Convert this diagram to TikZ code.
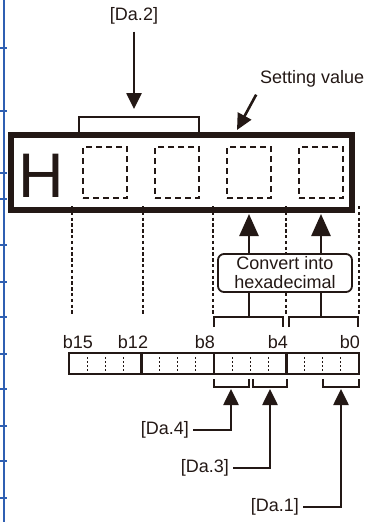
\documentclass[tikz,border=0pt]{standalone}
\usepackage{fontspec}
\setmainfont{Liberation Sans}
\usetikzlibrary{arrows.meta}
\definecolor{ink}{RGB}{35,24,21}
\definecolor{rule}{RGB}{47,95,178}

\begin{document}
\begin{tikzpicture}[x=1pt, y=-1pt,
  every node/.style={font=\fontsize{18}{19}\selectfont, text=ink, inner sep=0pt},
  frame/.style={ink, line width=5.5pt},
  digitbox/.style={draw=ink, line width=2.5pt, dash pattern=on 6pt off 4pt, minimum width=44pt, minimum height=51pt},
  bitline/.style={ink, line width=2.7pt, dash pattern=on 3.4pt off 2.4pt},
  bracket/.style={ink, line width=1.4pt},
  pointer/.style={ink, line width=2.6pt, -{Triangle[length=16pt,width=15pt]}},
  bigpointer/.style={ink, line width=2.6pt, -{Triangle[length=22pt,width=19pt]}}]
  \useasboundingbox (0,0) rectangle (366,523);
  %% table rule on the left
  \draw[rule, line width=2pt] (4,0) -- (4,522);
  \foreach \y in {48,111,173,199,245,282,317,354,389,426,461,498}
    \draw[rule, line width=1.5pt] (0,\y) -- (7,\y);
  %% display frame
  \draw[frame] (11,135) rectangle (352,210);
  \node (hchar) at (41.5,175.5) {\fontsize{63}{63}\selectfont H};
  \foreach \x [count=\i] in {105,177,249,321}
    \node[digitbox] (dig\i) at (\x,172.5) {};
  \coordinate (fbot) at (0,214);
  \coordinate (nibtop) at (0,317);
  %% [Da.2]
  \draw[bracket] (79,135) -- (79,117) -- (199,117) -- (199,135);
  \node (da2) at (134,16) {[Da.2]};
  \coordinate (da2tip) at (134,109);
  \draw[pointer, shorten <=7pt] (da2) -- (da2tip);
  %% setting value
  \node[anchor=west] (setval) at (260,79) {Setting value};
  \coordinate (svtip) at (237,130);
  \draw[pointer, shorten <=8pt] (setval.south west) -- (svtip);
  %% bit boundaries
  \foreach \x in {72,143,213,286,359}
    \draw[bitline] (\x,206) -- (\x,315);
  %% hex conversion
  \node[draw=ink, fill=white, line width=1.8pt, rounded corners=6pt, minimum width=134pt, minimum height=38pt, align=center] (conv) at (285,273) {Convert into\\hexadecimal};
  \draw[bigpointer] (conv.north -| dig3) -- (dig3 |- fbot);
  \draw[bigpointer] (conv.north -| dig4) -- (dig4 |- fbot);
  \draw[ink, line width=2.6pt] (conv.south -| dig3) -- (dig3 |- nibtop);
  \draw[ink, line width=2.6pt] (conv.south -| dig4) -- (dig4 |- nibtop);
  \draw[bracket] (214,327) -- (214,317) -- (283,317) -- (283,327);
  \draw[bracket] (289,327) -- (289,317) -- (358,317) -- (358,327);
  %% bit labels
  \foreach \b/\x in {15/78,12/133,8/205,4/278,0/350}
    \node (b\b) at (\x,342) {b\b};
  %% register
  \draw[ink, line width=2.6pt] (69,353) rectangle (359,374);
  \foreach \x in {141.5,214,286.5}
    \draw[ink, line width=2.6pt] (\x,353) -- (\x,374);
  \foreach \k in {1,2,3,5,6,7,9,10,11,13,14,15}
    \draw[ink, line width=0.9pt, dash pattern=on 2pt off 2pt] ({69+18.125*\k},357) -- ({69+18.125*\k},371);
  %% field brackets
  \draw[bracket] (214,379) -- (214,387) -- (249,387) -- (249,379);
  \draw[bracket] (253,379) -- (253,387) -- (287,387) -- (287,379);
  \draw[bracket] (323,379) -- (323,387) -- (359,387) -- (359,379);
  %% field labels
  \node[anchor=east] (da4) at (189,430) {[Da.4]};
  \coordinate (da4tip) at (231,389);
  \draw[pointer, shorten <=4pt] (da4.east) -| (da4tip);
  \node[anchor=east] (da3) at (229,468) {[Da.3]};
  \coordinate (da3tip) at (270,389);
  \draw[pointer, shorten <=4pt] (da3.east) -| (da3tip);
  \node[anchor=east] (da1) at (299,507) {[Da.1]};
  \coordinate (da1tip) at (341,389);
  \draw[pointer, shorten <=4pt] (da1.east) -| (da1tip);
\end{tikzpicture}
\end{document}
